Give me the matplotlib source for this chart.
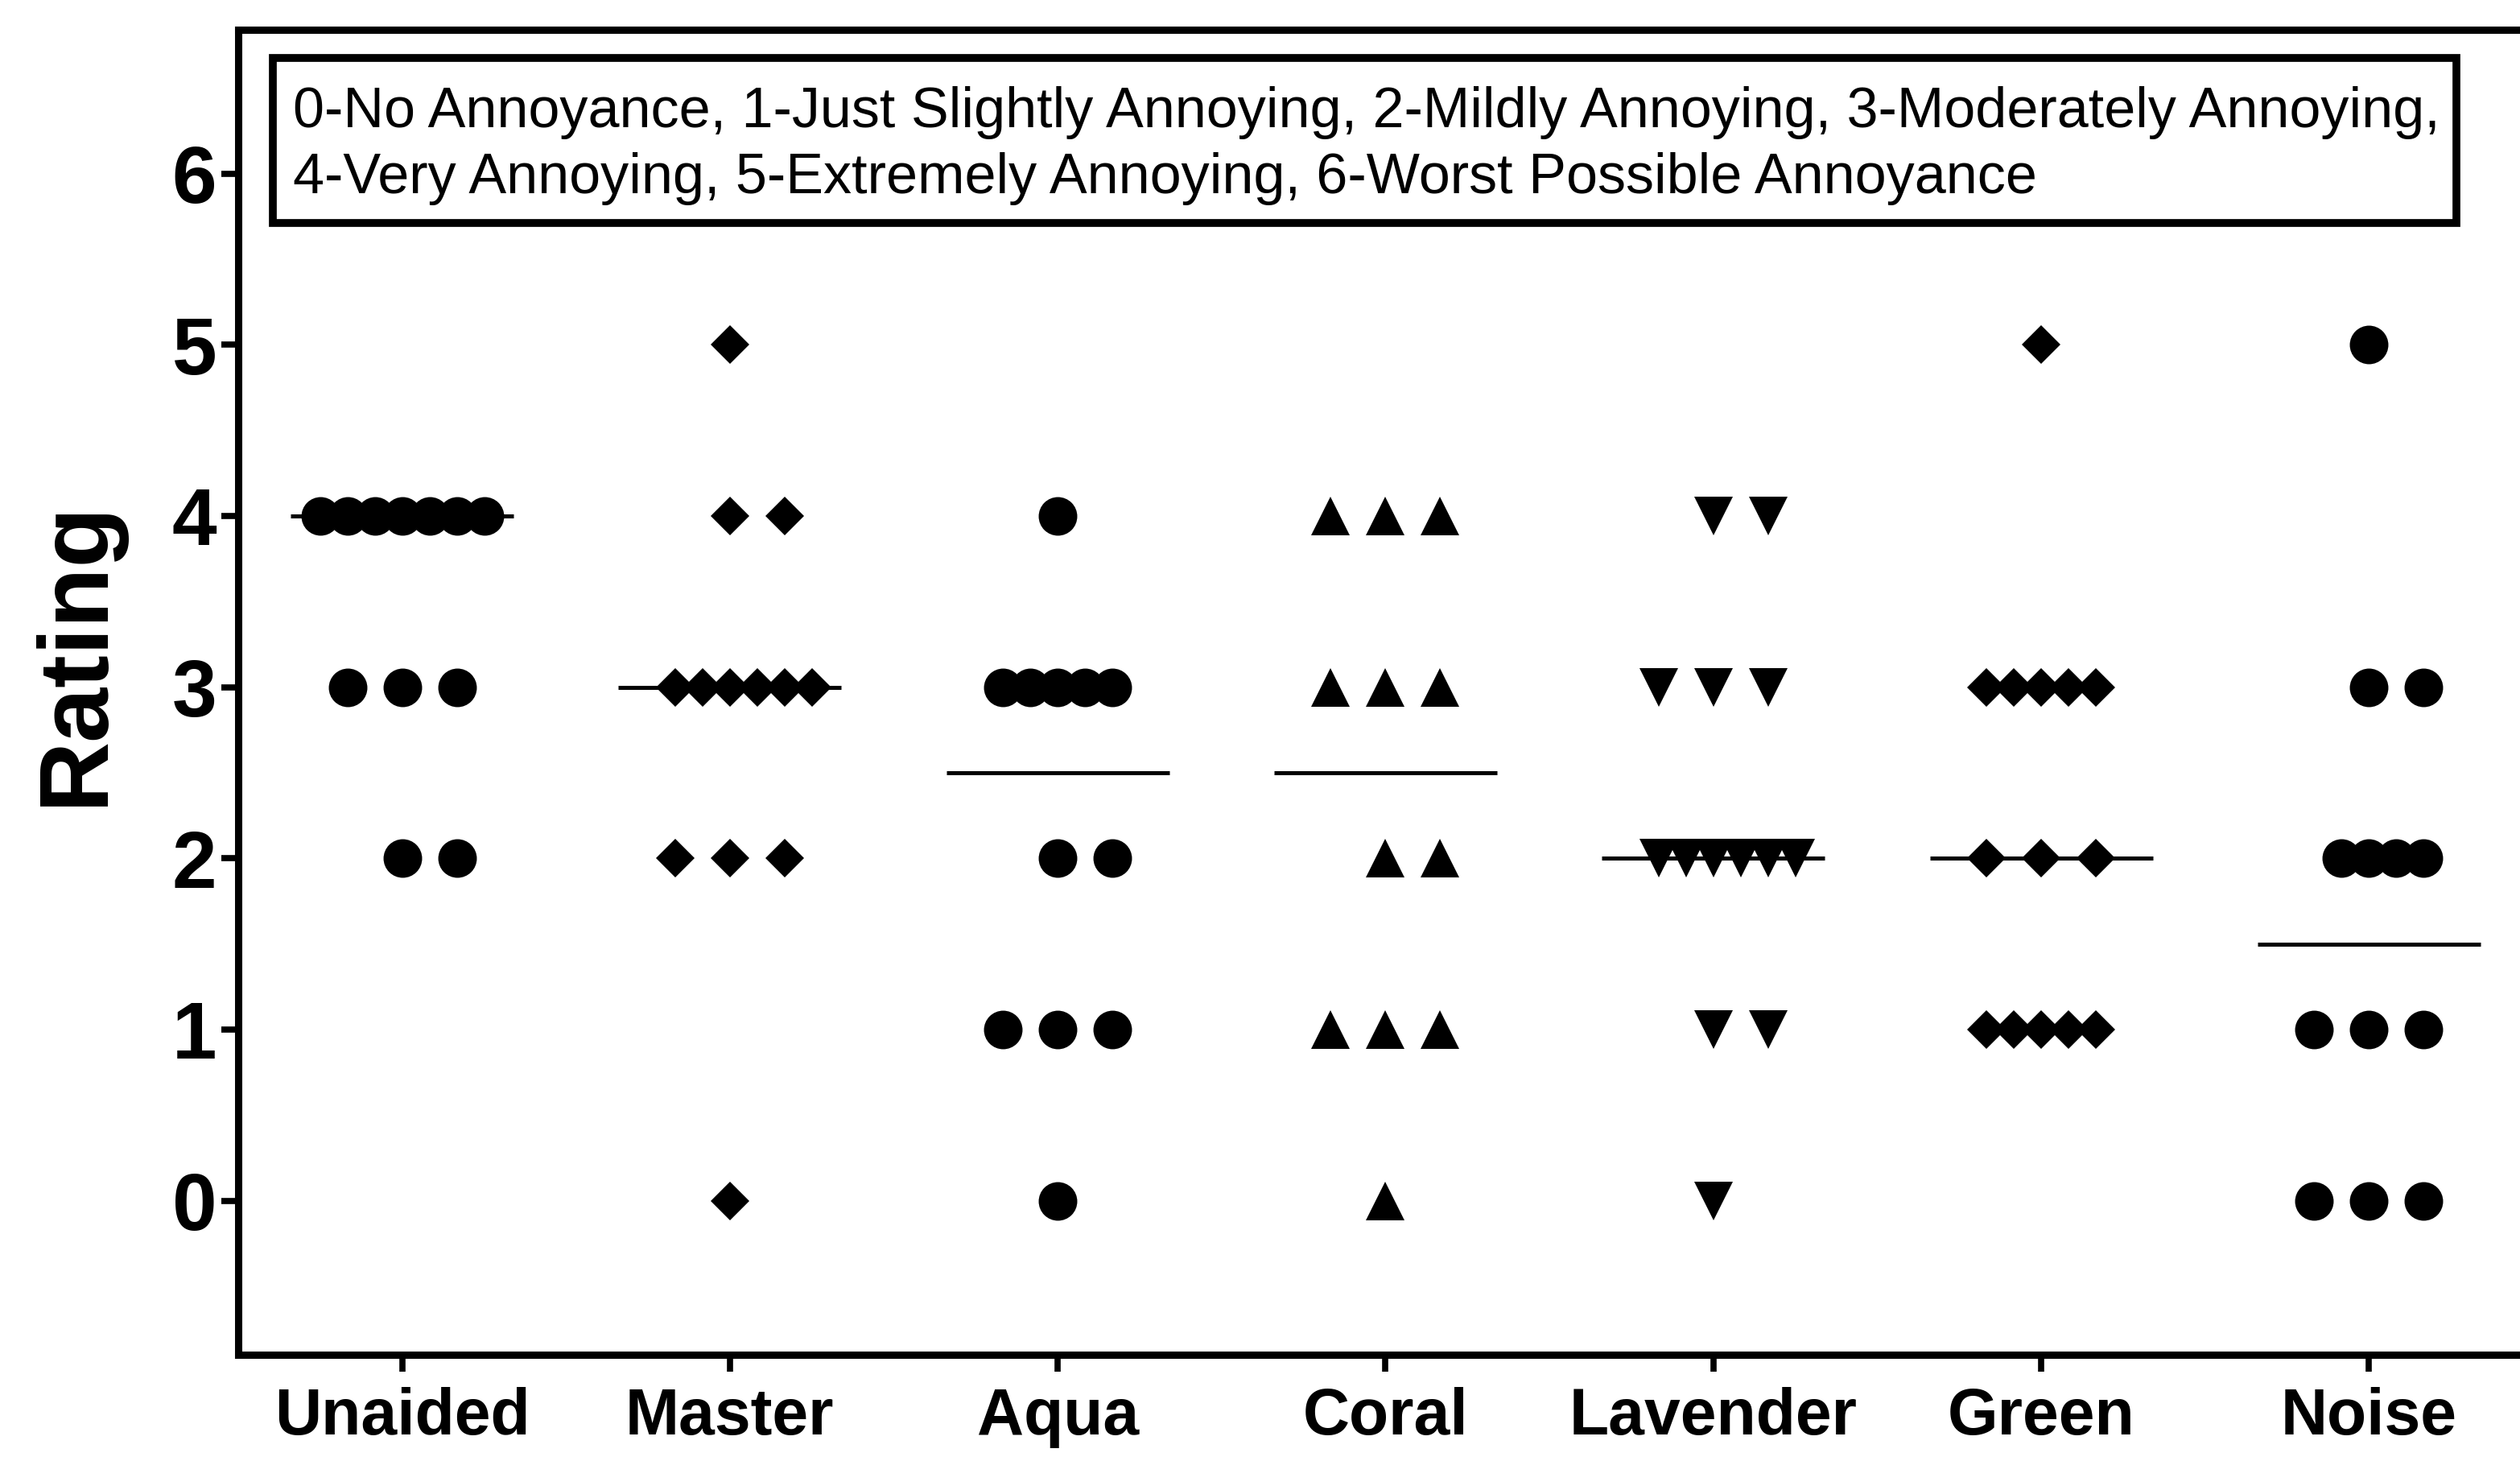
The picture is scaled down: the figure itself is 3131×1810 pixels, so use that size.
import matplotlib
matplotlib.use("Agg")
import matplotlib.pyplot as plt
from matplotlib.patches import Rectangle
import numpy as np

plt.rcParams['font.family'] = ['Liberation Sans', 'DejaVu Sans']

# ratings per condition
categories = ['Unaided', 'Master', 'Aqua', 'Coral', 'Lavender', 'Green', 'Noise']
unaided = [4] * 7 + [3] * 3 + [2] * 2
master = [5] + [4] * 2 + [3] * 6 + [2] * 3 + [0]
aqua = [4] + [3] * 5 + [2] * 2 + [1] * 3 + [0]
coral = [4] * 3 + [3] * 3 + [2] * 2 + [1] * 3 + [0]
lavender = [4] * 2 + [3] * 3 + [2] * 6 + [1] * 2 + [0]
green = [5] + [3] * 5 + [2] * 3 + [1] * 5
noise = [5] + [3] * 2 + [2] * 4 + [1] * 3 + [0] * 3
series = [unaided, master, aqua, coral, lavender, green, noise]
center_lines = [4, 3, 2.5, 2.5, 2, 2, 1.5]
markers = ['o', 'D', 'o', '^', 'v', 'D', 'o']
legend_lines = ['0-No Annoyance, 1-Just Slightly Annoying, 2-Mildly Annoying, 3-Moderately Annoying,',
                '4-Very Annoying, 5-Extremely Annoying, 6-Worst Possible Annoyance']

fig = plt.figure(figsize=(31.31, 18.10), dpi=100)
ax = fig.add_axes([0.0945, 0.0702, 0.9106, 0.9094])

marker_size = {'o': 34.5, 'D': 24, '^': 34, 'v': 34}
wide_step = 0.167
narrow_step = 0.0835

for i, vals in enumerate(series):
    vals = np.array(vals)
    for v in np.unique(vals):
        n = int((vals == v).sum())
        step = wide_step if n <= 3 else narrow_step
        start = -((n - 1) // 2)
        xs = i + (start + np.arange(n)) * step
        ax.plot(xs, [v] * n, linestyle='none', marker=markers[i],
                markersize=marker_size[markers[i]], color='black', markeredgewidth=0)
    ax.hlines(center_lines[i], i - 0.34, i + 0.34, color='black', linewidth=3.6, zorder=3)

ax.set_xlim(-0.5, 6.5)
ax.set_ylim(-0.9, 6.84)
ax.set_xticks(range(len(categories)))
ax.set_xticklabels(categories, fontsize=58, fontweight='bold')
ax.set_yticks(range(7))
ax.set_yticklabels([str(t) for t in range(7)], fontsize=72, fontweight='bold')
ax.tick_params(axis='y', direction='out', length=15, width=5.5, pad=4)
ax.tick_params(axis='x', direction='out', length=15, width=5.5, pad=14)
for s in ['left', 'bottom', 'top']:
    ax.spines[s].set_linewidth(6.5)
ax.spines['right'].set_visible(False)
ax.set_ylabel('Rating', fontsize=88, fontweight='bold')
ax.yaxis.set_label_coords(-0.05, 0.53)

# rating scale key in a boxed note at the top
box = Rectangle((0.1083, 0.8470), 0.9748 - 0.1083, 0.9602 - 0.8470, transform=fig.transFigure,
                facecolor='white', edgecolor='black', linewidth=7, zorder=5)
fig.patches.append(box)
fig.text(0.1163, 0.9127, legend_lines[0], fontsize=50.5, va='baseline', ha='left', zorder=6)
fig.text(0.1163, 0.8674, legend_lines[1], fontsize=50.5, va='baseline', ha='left', zorder=6)

fig.savefig('out.png', dpi=100)
